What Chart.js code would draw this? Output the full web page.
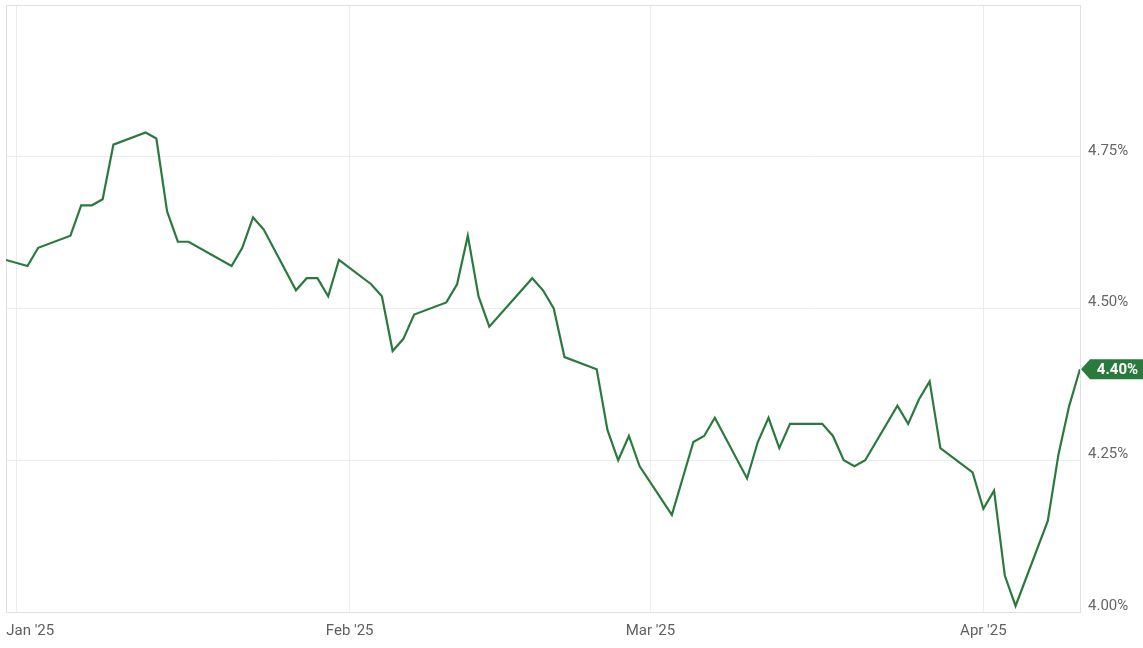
<!DOCTYPE html>
<html>
<head>
<meta charset="utf-8">
<script src="https://cdn.jsdelivr.net/npm/chart.js@4.4.1/dist/chart.umd.min.js"></script>
<style>
  html, body { margin: 0; padding: 0; background: #ffffff; }
  #wrap { width: 1143px; height: 648px; position: relative; }
</style>
</head>
<body>
<div id="wrap"><canvas id="c" width="1143" height="648"></canvas></div>
<script>
// ---- data ----
const dates = ['2024-12-31','2025-01-02','2025-01-03','2025-01-06','2025-01-07','2025-01-08','2025-01-09','2025-01-10','2025-01-13','2025-01-14','2025-01-15','2025-01-16','2025-01-17','2025-01-21','2025-01-22','2025-01-23','2025-01-24','2025-01-27','2025-01-28','2025-01-29','2025-01-30','2025-01-31',
  '2025-02-03','2025-02-04','2025-02-05','2025-02-06','2025-02-07','2025-02-10','2025-02-11','2025-02-12','2025-02-13','2025-02-14','2025-02-18','2025-02-19','2025-02-20','2025-02-21','2025-02-24','2025-02-25','2025-02-26','2025-02-27','2025-02-28',
  '2025-03-03','2025-03-04','2025-03-05','2025-03-06','2025-03-07','2025-03-10','2025-03-11','2025-03-12','2025-03-13','2025-03-14','2025-03-17','2025-03-18','2025-03-19','2025-03-20','2025-03-21','2025-03-24','2025-03-25','2025-03-26','2025-03-27','2025-03-28','2025-03-31',
  '2025-04-01','2025-04-02','2025-04-03','2025-04-04','2025-04-07','2025-04-08','2025-04-09','2025-04-10'];
const yields = [4.58,4.57,4.60,4.62,4.67,4.67,4.68,4.77,4.79,4.78,4.66,4.61,4.61,4.57,4.60,4.65,4.63,4.53,4.55,4.55,4.52,4.58,
  4.54,4.52,4.43,4.45,4.49,4.51,4.54,4.62,4.52,4.47,4.55,4.53,4.50,4.42,4.40,4.30,4.25,4.29,4.24,
  4.16,4.22,4.28,4.29,4.32,4.22,4.28,4.32,4.27,4.31,4.31,4.29,4.25,4.24,4.25,4.34,4.31,4.35,4.38,4.27,4.23,
  4.17,4.20,4.06,4.01,4.15,4.26,4.34,4.40];
const xTickDates = ['2025-01-01','2025-02-01','2025-03-01','2025-04-01'];
const xTickLabels = ["Jan '25","Feb '25","Mar '25","Apr '25"];
const yTicks = [4.00, 4.25, 4.50, 4.75, 5.00];

// ---- helpers ----
const BASE = Date.UTC(2025,0,1);
function dayIndex(s){ const p = s.split('-').map(Number); return (Date.UTC(p[0],p[1]-1,p[2]) - BASE)/86400000; }
const points = dates.map((d,i)=>({x: dayIndex(d), y: yields[i]}));
const xMin = points[0].x, xMax = points[points.length-1].x;
const tickDays = xTickDates.map(dayIndex);

const GREEN = '#2b7a3d';
const FONT = 'Roboto, "Noto Sans", sans-serif';

function noPad(axis){ axis.paddingTop = 0; axis.paddingBottom = 0; axis.paddingLeft = 0; axis.paddingRight = 0; }

const framePlugin = {
  id: 'frame',
  beforeDatasetsDraw(chart){
    const {ctx, chartArea: a} = chart;
    ctx.save();
    ctx.strokeStyle = '#e0e0e0';
    ctx.lineWidth = 1;
    ctx.beginPath();
    ctx.moveTo(a.left+0.5, a.bottom); ctx.lineTo(a.left+0.5, a.top+0.5); ctx.lineTo(a.right, a.top+0.5);
    ctx.stroke();
    ctx.restore();
  }
};

const endLabelPlugin = {
  id: 'endLabel',
  afterDatasetsDraw(chart){
    const meta = chart.getDatasetMeta(0);
    const last = meta.data[meta.data.length-1];
    const v = yields[yields.length-1];
    const {ctx} = chart;
    const x = last.x + 1, y = last.y;
    const h = 20, tip = 9, right = chart.width;
    ctx.save();
    ctx.fillStyle = GREEN;
    ctx.beginPath();
    ctx.moveTo(x, y);
    ctx.lineTo(x+tip, y-h/2);
    ctx.lineTo(right, y-h/2);
    ctx.lineTo(right, y+h/2);
    ctx.lineTo(x+tip, y+h/2);
    ctx.closePath();
    ctx.fill();
    ctx.fillStyle = '#ffffff';
    ctx.font = 'bold 15px ' + FONT;
    ctx.textAlign = 'center';
    ctx.textBaseline = 'middle';
    ctx.fillText(v.toFixed(2) + '%', (x+tip+right)/2 + 1, y + 1);
    ctx.restore();
  }
};

new Chart(document.getElementById('c'), {
  type: 'line',
  data: {
    datasets: [{
      data: points,
      borderColor: GREEN,
      borderWidth: 2.2,
      pointRadius: 0,
      tension: 0,
      fill: false
    }]
  },
  options: {
    responsive: false,
    animation: false,
    layout: { padding: { left: 6, top: 5, right: 0, bottom: 0 } },
    plugins: { legend: { display: false }, tooltip: { enabled: false } },
    scales: {
      x: {
        type: 'linear', position: 'bottom', min: xMin, max: xMax,
        afterBuildTicks(axis){ axis.ticks = tickDays.map(v=>({value: v})); },
        grid: { color: '#ececec', drawTicks: false },
        border: { color: '#e0e0e0' },
        ticks: { display: false },
        afterFit(axis){ axis.height = 0; noPad(axis); }
      },
      xl: {
        type: 'linear', position: 'bottom', min: xMin, max: xMax,
        afterBuildTicks(axis){ axis.ticks = tickDays.map((v,i)=>({value: i===0 ? v+1.25 : v})); },
        grid: { display: false, drawTicks: false },
        border: { display: false },
        ticks: {
          autoSkip: false, maxRotation: 0, padding: 10,
          color: '#5f5f5f', font: { family: FONT, size: 15 },
          callback(value, index){ return xTickLabels[index]; }
        },
        afterFit(axis){ axis.height = 36; noPad(axis); }
      },
      y: {
        type: 'linear', position: 'right', min: yTicks[0], max: yTicks[yTicks.length-1],
        afterBuildTicks(axis){ axis.ticks = yTicks.map(v=>({value: v})); },
        grid: { color: '#ececec', drawTicks: false },
        border: { color: '#e0e0e0' },
        ticks: {
          padding: 8, labelOffset: -6,
          color: '#666666', font: { family: FONT, size: 15 },
          callback(value){ return value >= 5 ? '' : value.toFixed(2) + '%'; }
        },
        afterFit(axis){ axis.width = 63; noPad(axis); }
      }
    }
  },
  plugins: [framePlugin, endLabelPlugin]
});
</script>
</body>
</html>
